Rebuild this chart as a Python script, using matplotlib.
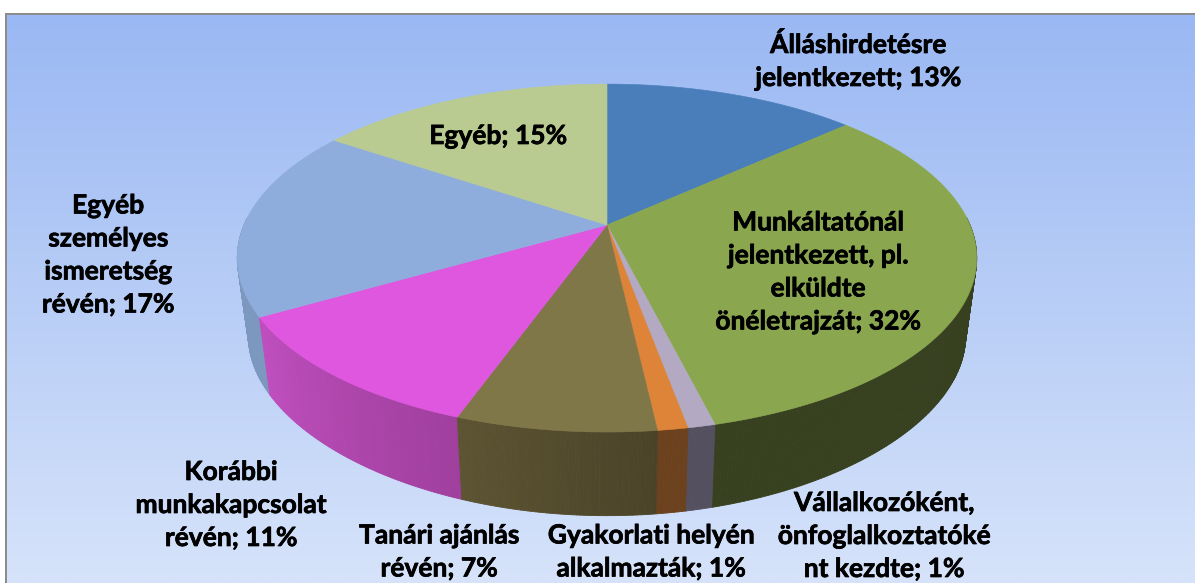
import numpy as np
import matplotlib
matplotlib.use('Agg')
import matplotlib.pyplot as plt
import matplotlib.patheffects as pe
from matplotlib.collections import PolyCollection
from matplotlib.patches import Polygon, Rectangle

plt.rcParams['font.family'] = ['Lato', 'DejaVu Sans']

names = ['Álláshirdetésre\njelentkezett', 'Munkáltatónál\njelentkezett, pl.\nelküldte\nönéletrajzát',
         'Vállalkozóként,\nönfoglalkoztatóké\nnt kezdte', 'Gyakorlati helyén\nalkalmazták',
         'Tanári ajánlás\nrévén', 'Korábbi\nmunkakapcsolat\nrévén',
         'Egyéb\nszemélyes\nismeretség\nrévén', 'Egyéb']
values = [13, 32, 1, 1, 7, 11, 17, 15]
# slice sizes as measured on the picture, the printed labels are rounded
shares = [13.3, 32.8, 1.0, 1.1, 7.3, 11.2, 17.7, 15.6]

top_colors = ['#4a7ebb', '#8aa74f', '#b3a9c2', '#dd8439', '#7f7748', '#de57de', '#8fadDC', '#bacb92']
# side colour goes from the clockwise start of a slice to its end
side_start = ['#37401f', '#37401f', '#54505f', '#6c411d', '#4b4329', '#a03f9e', '#7c98be', '#8aa0c0']
side_end = ['#37401f', '#37401f', '#54505f', '#6c411d', '#5d5432', '#c04fbf', '#7c98be', '#8aa0c0']

label_pos = [(858, 61), (818, 272), (884, 536), (651, 552), (439, 552), (231, 505), (108, 255), (498, 136)]


def ring(t, cy, a, b, ky, kx):
    # t is clockwise from the top of the pie, perspective squeezes the far side
    x, y = np.sin(t), np.cos(t)
    return 607 + b * x / (1 + kx * y), cy - a * y / (1 + ky * y)


def top_ring(t):
    return ring(t, 225, 167.7, 363, 0.19, 0.19)


def bottom_ring(t):
    return ring(t, 305, 158, 352, 0.25, 0.19)


def mix(c1, c2, f):
    c1, c2 = np.array(matplotlib.colors.to_rgb(c1)), np.array(matplotlib.colors.to_rgb(c2))
    return c1 + (c2 - c1) * f


fig = plt.figure(figsize=(11.95, 5.83), dpi=100)
ax = fig.add_axes([0, 0, 1, 1])
ax.axis('off')

grad = np.linspace(0, 1, 256).reshape(-1, 1)
ax.imshow(grad, extent=(7, 1195, 583, 14), aspect='auto', zorder=0,
          cmap=matplotlib.colors.LinearSegmentedColormap.from_list('bg', ['#9ab8f3', '#d6e3fa']))
ax.set_xlim(0, 1195)
ax.set_ylim(583, 0)
ax.add_patch(Rectangle((5.5, 13), 2, 570, color='#8c8c8c', lw=0, zorder=1))
ax.add_patch(Rectangle((5.5, 13), 1190, 2, color='#8c8c8c', lw=0, zorder=1))

edges = np.cumsum([0] + shares) / sum(shares) * 2 * np.pi

# side wall, small quads from back to front, the far part is hidden anyway
quads = []
for i in range(len(shares)):
    ts = np.arange(edges[i], edges[i + 1], np.radians(0.5))
    ts = np.append(ts, edges[i + 1])
    for j in range(len(ts) - 1):
        t0, t1 = ts[j], ts[j + 1]
        if np.cos((t0 + t1) / 2) > 0.05:
            continue
        f = (j + 0.5) / (len(ts) - 1)
        x0, y0 = top_ring(t0)
        x1, y1 = top_ring(t1)
        x2, y2 = bottom_ring(t1)
        x3, y3 = bottom_ring(t0)
        quads.append((-np.cos((t0 + t1) / 2), [(x0, y0), (x1, y1), (x2, y2), (x3, y3)], mix(side_start[i], side_end[i], f)))
quads.sort(key=lambda q: q[0])
cols = [q[2] for q in quads]
ax.add_collection(PolyCollection([q[1] for q in quads], facecolors=cols, edgecolors=cols, linewidths=0.6, zorder=2))

# top face
for i in range(len(shares)):
    x, y = top_ring(np.linspace(edges[i], edges[i + 1], 200))
    pts = [(607, 225)] + list(zip(x, y))
    ax.add_patch(Polygon(pts, closed=True, facecolor=top_colors[i], edgecolor=top_colors[i], lw=0.4, zorder=3))

for i in range(len(values)):
    ax.text(label_pos[i][0], label_pos[i][1], f'{names[i]}; {values[i]}%', ha='center', va='center',
            fontsize=19, fontweight='bold', color='black', linespacing=1.45, zorder=4,
            path_effects=[pe.withStroke(linewidth=0.5, foreground='black')])

plt.savefig('out.png', dpi=100)
